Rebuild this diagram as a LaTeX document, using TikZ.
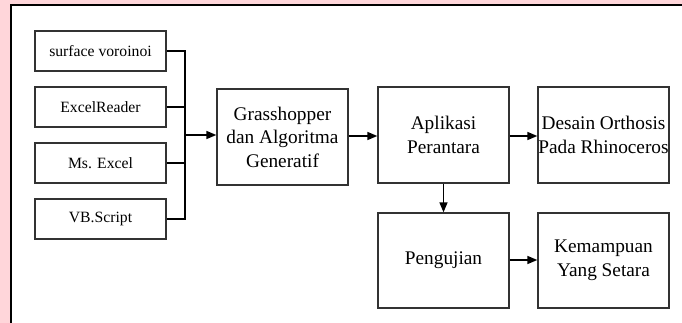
\documentclass[tikz,border=0pt]{standalone}
\usepackage{fontspec}
\setmainfont{Liberation Serif}
\usetikzlibrary{arrows.meta}
\definecolor{bgpink}{RGB}{255,214,218}
\definecolor{ln}{RGB}{50,50,50}
\tikzset{
  small/.style={draw=ln, line width=1.3pt, minimum width=131pt, minimum height=40pt, inner sep=0pt, font=\fontsize{15.7}{18}\selectfont, align=center},
  big/.style={draw=ln, line width=1.3pt, minimum width=131pt, minimum height=96pt, inner sep=0pt, font=\fontsize{19.3}{23.5}\selectfont, align=center},
  conn/.style={draw=black, line width=1.5pt},
  arr/.style={conn, -{Triangle[length=10pt,width=8pt]}}
}
\begin{document}
\begin{tikzpicture}[x=1pt,y=-1pt]
\useasboundingbox (0,0) rectangle (682,323);
\fill[bgpink] (0,0) rectangle (682,323);
\fill[white] (10,4) rectangle (682,323);
\draw[black, line width=2.2pt] (11,323) -- (11,5) -- (682,5);

\node[small] (sv) at (100.5,51) {surface voroinoi};
\node[small] (er) at (100.5,107) {ExcelReader};
\node[small] (me) at (100.5,163) {Ms. Excel};
\node[small] (vb) at (100.5,219) {VB.Script};

\node[big] (gh) at (282.5,137) {Grasshopper\\dan Algoritma\\Generatif};
\node[big] (ap) at (443.5,135) {Aplikasi\\Perantara};
\node[big] (de) at (603.5,135) {Desain Orthosis\\Pada Rhinoceros};
\node[big, minimum height=95pt] (pe) at (443.5,260.5) {Pengujian};
\node[big, minimum height=95pt] (ke) at (603.5,260.5) {Kemampuan\\Yang Setara};

\coordinate (bt) at (185,51);
\coordinate (bb) at (185,219);
\coordinate (bm) at (185,135);
\draw[conn] (sv.east) -- (bt) -- (bb) -- (vb.east);
\draw[conn] (er.east) -- (er.east -| bm);
\draw[conn] (me.east) -- (me.east -| bm);
\draw[arr] (bm) -- (bm -| gh.west);
\draw[arr] (gh.east |- 0,136) -- (ap.west |- 0,136);
\draw[arr] (ap.east |- 0,136) -- (de.west |- 0,136);
\draw[arr] (ap.south) -- (pe.north);
\draw[arr] (pe.east |- 0,260) -- (ke.west |- 0,260);
\end{tikzpicture}
\end{document}
